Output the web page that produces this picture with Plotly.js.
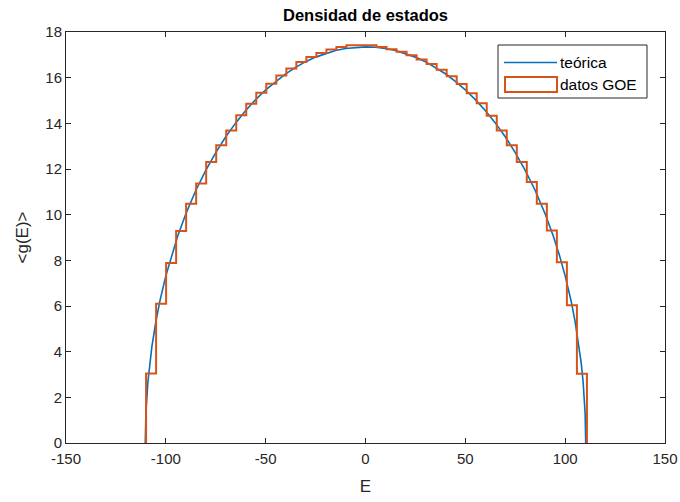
<!DOCTYPE html>
<html>
<head>
<meta charset="utf-8">
<script src="https://cdn.plot.ly/plotly-3.0.1.min.js"></script>
<style>
  html, body { margin: 0; padding: 0; background: #ffffff; }
  #chart { width: 680px; height: 502px; }
</style>
</head>
<body>
<div id="chart"></div>
<script>
// Theoretical semicircle density, sampled along E
const energyTheory = [
  -110.3, -110, -109, -108, -107, -105, -103, -100, -97, -94, -90, -85, -80, -75, -70,
  -65, -60, -55, -50, -45, -40, -35, -30, -25, -20, -15, -10, -5, 0,
  5, 10, 15, 20, 25, 30, 35, 40, 45, 50, 55, 60, 65, 70, 75, 80, 85, 90,
  94, 97, 100, 103, 105, 107, 108, 109, 110, 110.3
];
const densityTheory = [
  0, 1.28, 2.66, 3.53, 4.21, 5.31, 6.21, 7.32, 8.26, 9.08, 10.03, 11.06, 11.94, 12.72, 13.41,
  14.02, 14.56, 15.04, 15.47, 15.84, 16.17, 16.45, 16.70, 16.90, 17.06, 17.19, 17.28, 17.33, 17.35,
  17.33, 17.28, 17.19, 17.06, 16.90, 16.70, 16.45, 16.17, 15.84, 15.47, 15.04, 14.56, 14.02, 13.41, 12.72, 11.94, 11.06, 10.03,
  9.08, 8.26, 7.32, 6.21, 5.31, 4.21, 3.53, 2.66, 1.28, 0
];

// GOE histogram: 44 equal bins between binLow and binHigh
const binLow = -109.9;
const binHigh = 110.9;
const binCounts = [
  3.04, 6.10, 7.88, 9.28, 10.48, 11.36, 12.31, 13.04, 13.69, 14.35, 14.86,
  15.34, 15.73, 16.10, 16.40, 16.69, 16.90, 17.08, 17.23, 17.34, 17.42, 17.42,
  17.42, 17.34, 17.24, 17.13, 16.98, 16.80, 16.60, 16.35, 16.06, 15.72, 15.32,
  14.88, 14.33, 13.69, 13.04, 12.31, 11.43, 10.48, 9.31, 7.92, 6.03, 3.03
];

const xTicks = [-150, -100, -50, 0, 50, 100, 150];
const yTicks = [0, 2, 4, 6, 8, 10, 12, 14, 16, 18];

const blue = '#0072BD';
const orange = '#D95319';
const ink = '#262626';
const font = 'Arial, "Liberation Sans", Helvetica, sans-serif';

// Stair outline of the histogram (MATLAB 'stairs' display style)
const nBins = binCounts.length;
const binW = (binHigh - binLow) / nBins;
const edges = binCounts.map((_, i) => binLow + i * binW).concat([binHigh]);
const stairX = [edges[0]];
const stairY = [0];
binCounts.forEach((h, i) => { stairX.push(edges[i]); stairY.push(h); });
stairX.push(edges[nBins]);
stairY.push(0);

// Plot area geometry in pixels, used to place the boxed legend
const ML = 66, MR = 15, MT = 32, MB = 59;
const PW = 680 - ML - MR, PH = 502 - MT - MB;
const px = v => (v - ML) / PW;
const py = v => 1 - (v - MT) / PH;

const traces = [
  {
    x: energyTheory, y: densityTheory, type: 'scatter', mode: 'lines',
    name: 'teórica', line: { color: blue, width: 1.6 }, showlegend: false
  },
  {
    x: stairX, y: stairY, type: 'scatter', mode: 'lines',
    name: 'datos GOE', line: { color: orange, width: 2, shape: 'hv' }, showlegend: false
  }
];

const axisBase = {
  showgrid: false, zeroline: false, showline: true, linecolor: ink, linewidth: 1,
  mirror: 'allticks', ticks: 'inside', ticklen: 5, tickwidth: 1, tickcolor: ink,
  tickfont: { family: font, size: 15, color: ink }
};

const layout = {
  width: 680, height: 502,
  margin: { l: ML, r: MR, t: MT, b: MB },
  paper_bgcolor: '#ffffff', plot_bgcolor: '#ffffff',
  title: {
    text: '<b>Densidad de estados</b>',
    font: { family: font, size: 16.5, color: '#000000' },
    x: px(365.5), xref: 'paper', xanchor: 'center',
    y: 1 - 15 / 502, yref: 'container', yanchor: 'middle'
  },
  xaxis: Object.assign({}, axisBase, {
    range: [-150, 150], tickvals: xTicks, ticktext: xTicks.map(String),
    ticklabelstandoff: 2,
    title: { text: 'E', font: { family: font, size: 17, color: ink }, standoff: 14 }
  }),
  yaxis: Object.assign({}, axisBase, {
    range: [0, 18], tickvals: yTicks, ticktext: yTicks.map(String),
    title: { text: '&lt;g(E)&gt;', font: { family: font, size: 17, color: ink }, standoff: 12 }
  }),
  shapes: [
    // legend frame
    { type: 'rect', xref: 'paper', yref: 'paper',
      x0: px(498), x1: px(647), y0: py(98), y1: py(45),
      line: { color: ink, width: 1 }, fillcolor: '#ffffff', layer: 'above' },
    // legend sample: line
    { type: 'line', xref: 'paper', yref: 'paper',
      x0: px(504), x1: px(557), y0: py(62.5), y1: py(62.5),
      line: { color: blue, width: 1.6 }, layer: 'above' },
    // legend sample: histogram patch
    { type: 'rect', xref: 'paper', yref: 'paper',
      x0: px(505), x1: px(557), y0: py(92), y1: py(77),
      line: { color: orange, width: 2 }, fillcolor: 'rgba(0,0,0,0)', layer: 'above' }
  ],
  annotations: [
    { text: 'teórica', xref: 'paper', yref: 'paper', x: px(558), y: py(62.5),
      xanchor: 'left', yanchor: 'middle', showarrow: false,
      font: { family: font, size: 15.5, color: '#000000' } },
    { text: 'datos GOE', xref: 'paper', yref: 'paper', x: px(558), y: py(85),
      xanchor: 'left', yanchor: 'middle', showarrow: false,
      font: { family: font, size: 15.5, color: '#000000' } }
  ]
};

Plotly.newPlot('chart', traces, layout, { staticPlot: true, displayModeBar: false });
</script>
</body>
</html>
